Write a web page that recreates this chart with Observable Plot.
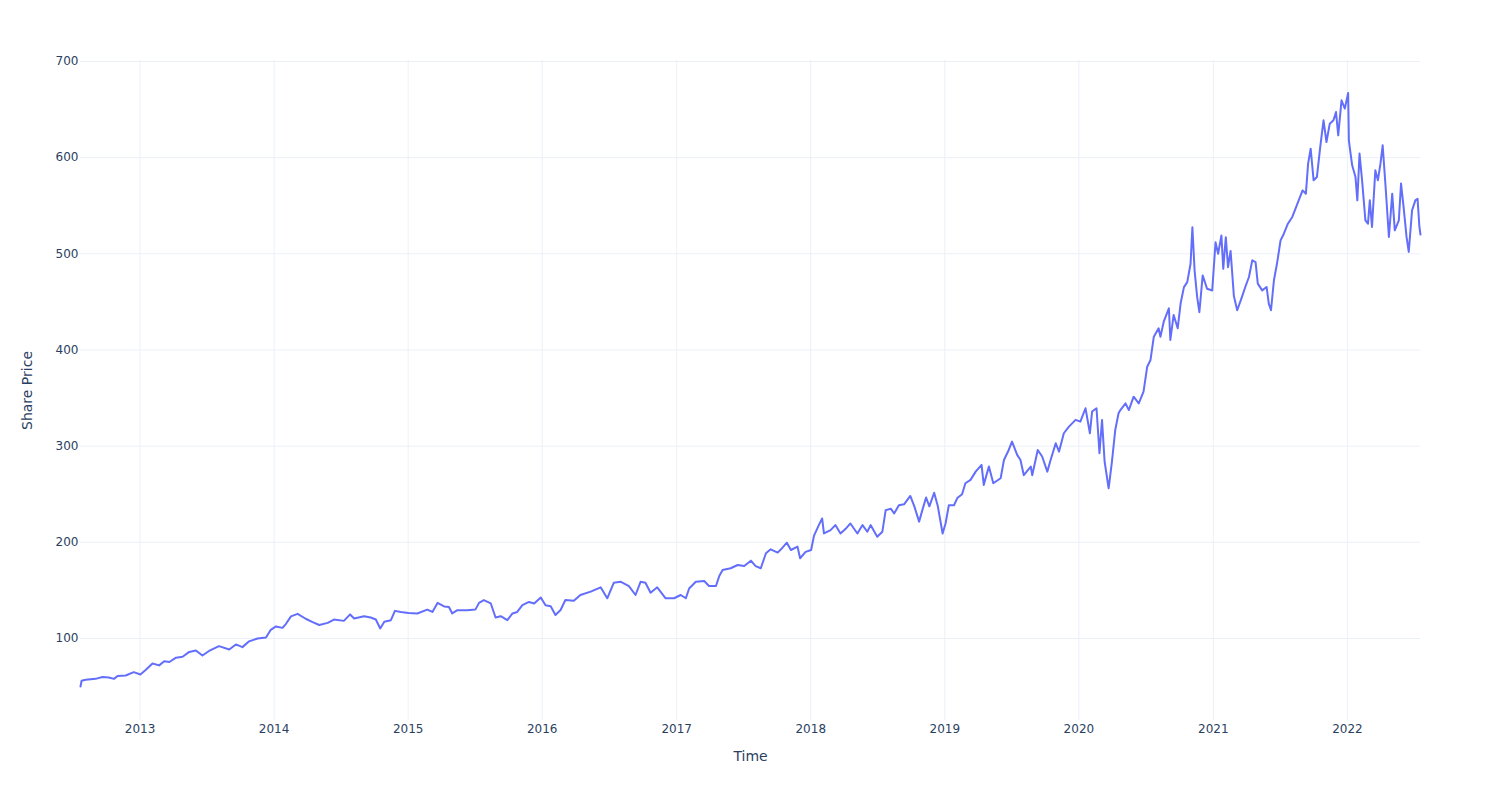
<!DOCTYPE html>
<html>
<head>
<meta charset="utf-8">
<script src="https://cdn.jsdelivr.net/npm/d3@7"></script>
<script src="https://cdn.jsdelivr.net/npm/@observablehq/plot@0.6"></script>
<style>
  html, body { margin: 0; padding: 0; background: #fff; }
  #chart { width: 1500px; height: 800px; }
</style>
</head>
<body>
<div id="chart"></div>
<script>
const dates = [
  "2012-07-23","2012-07-26","2012-08-06","2012-09-02","2012-09-21","2012-10-08","2012-10-22","2012-11-01","2012-11-23","2012-12-15",
  "2013-01-02","2013-01-17","2013-02-04","2013-02-22","2013-03-08","2013-03-22","2013-04-09","2013-04-27","2013-05-15","2013-06-02",
  "2013-06-20","2013-07-08","2013-08-04","2013-09-01","2013-09-19","2013-10-07","2013-10-25","2013-11-17","2013-12-10","2013-12-23",
  "2014-01-06","2014-01-24","2014-02-02","2014-02-16","2014-03-06","2014-03-28","2014-04-16","2014-05-04","2014-05-27","2014-06-13",
  "2014-07-10","2014-07-27","2014-08-07","2014-09-03","2014-09-21","2014-10-05","2014-10-17","2014-10-28","2014-11-15","2014-11-26",
  "2014-12-12","2015-01-02","2015-01-26","2015-02-22","2015-03-08","2015-03-22","2015-04-09","2015-04-22","2015-05-01","2015-05-15",
  "2015-06-11","2015-07-03","2015-07-13","2015-07-26","2015-08-14","2015-08-27","2015-09-10","2015-09-28","2015-10-12","2015-10-25",
  "2015-11-08","2015-11-26","2015-12-10","2015-12-28","2016-01-10","2016-01-24","2016-02-06","2016-02-20","2016-03-04","2016-03-27",
  "2016-04-14","2016-05-12","2016-06-08","2016-06-26","2016-07-14","2016-08-01","2016-08-24","2016-09-11","2016-09-25","2016-10-08",
  "2016-10-22","2016-11-09","2016-12-02","2016-12-25","2017-01-12","2017-01-26","2017-02-04","2017-02-22","2017-03-17","2017-03-30",
  "2017-04-18","2017-04-27","2017-05-06","2017-05-28","2017-06-16","2017-07-04","2017-07-22","2017-08-04","2017-08-18","2017-09-01",
  "2017-09-14","2017-10-03","2017-10-12","2017-10-28","2017-11-08","2017-11-26","2017-12-03","2017-12-18","2018-01-02","2018-01-10",
  "2018-01-23","2018-02-01","2018-02-06","2018-02-24","2018-03-09","2018-03-23","2018-04-06","2018-04-19","2018-05-08","2018-05-22",
  "2018-06-04","2018-06-13","2018-07-01","2018-07-15","2018-07-24","2018-08-07","2018-08-16","2018-08-29","2018-09-12","2018-09-29",
  "2018-10-10","2018-10-23","2018-11-02","2018-11-11","2018-11-20","2018-12-03","2018-12-13","2018-12-26","2019-01-03","2019-01-12",
  "2019-01-26","2019-02-04","2019-02-17","2019-02-26","2019-03-12","2019-03-26","2019-04-11","2019-04-17","2019-05-01","2019-05-13",
  "2019-06-02","2019-06-11","2019-06-24","2019-07-03","2019-07-17","2019-07-26","2019-08-04","2019-08-23","2019-08-27","2019-09-11",
  "2019-09-23","2019-10-07","2019-10-16","2019-10-30","2019-11-08","2019-11-21","2019-12-05","2019-12-23","2020-01-05","2020-01-19",
  "2020-01-31","2020-02-06","2020-02-18","2020-02-26","2020-03-04","2020-03-11","2020-03-22","2020-03-31","2020-04-09","2020-04-18",
  "2020-04-23","2020-05-07","2020-05-16","2020-05-29","2020-06-12","2020-06-25","2020-07-05","2020-07-14","2020-07-23","2020-08-05",
  "2020-08-10","2020-08-19","2020-09-02","2020-09-06","2020-09-15","2020-09-26","2020-10-04","2020-10-13","2020-10-22","2020-10-31",
  "2020-11-05","2020-11-11","2020-11-18","2020-11-24","2020-12-03","2020-12-15","2020-12-29","2021-01-07","2021-01-14","2021-01-23",
  "2021-01-28","2021-02-04","2021-02-10","2021-02-17","2021-02-26","2021-03-07","2021-03-20","2021-03-29","2021-04-08","2021-04-17",
  "2021-04-26","2021-05-02","2021-05-14","2021-05-26","2021-06-01","2021-06-07","2021-06-15","2021-06-24","2021-07-03","2021-07-12",
  "2021-07-23","2021-08-04","2021-08-18","2021-09-01","2021-09-10","2021-09-16","2021-09-23","2021-10-01","2021-10-10","2021-10-19",
  "2021-10-28","2021-11-05","2021-11-14","2021-11-24","2021-12-01","2021-12-07","2021-12-16","2021-12-25","2022-01-03","2022-01-05",
  "2022-01-09","2022-01-14","2022-01-23","2022-01-28","2022-02-03","2022-02-10","2022-02-19","2022-02-26","2022-03-03","2022-03-09",
  "2022-03-18","2022-03-25","2022-04-01","2022-04-07","2022-04-15","2022-04-24","2022-05-03","2022-05-10","2022-05-21","2022-05-27",
  "2022-06-03","2022-06-11","2022-06-17","2022-06-26","2022-07-05","2022-07-11","2022-07-16","2022-07-19"
];
const prices = [
  50,56,57,58,60,59.5,58,61,61.5,65,
  62.6,67.5,74,72,76.4,75.5,80,81,86,87.5,
  82.3,87,92,88.6,93.8,91,97,100,101,109,
  112.5,111,115,123,125.6,120.5,117,114,116.2,119.7,
  118.3,125,120.8,123.2,121.8,119.7,110.4,117.3,119,128.7,
  127.6,126.6,126,130,127.6,137,133.3,132.7,126,129.4,
  129.4,130,137,139.8,136.4,121.8,123.2,119,126,127.6,
  134.6,138,136.4,142.6,134.6,133.6,124.4,129.6,140,139.3,
  145.2,148.7,153.2,141.8,158,159,154.5,145.2,159,158,
  147.6,153.2,141.8,141.8,145.2,141.8,152,159,159.7,154.5,
  154.5,165,171.2,173,176.4,175.3,180.9,175.3,173,188.6,
  192.7,189.3,192.7,199.6,192,195.5,183.4,190,192,207,
  217.9,224.8,209.2,212.7,217.9,209.2,214,219.6,209.2,217.9,
  211,217.9,205.7,211,233.4,235,230,238.5,239.5,248.2,
  237.4,221.5,235,246.5,237.4,251.5,237.4,209.2,219.6,238.5,
  238.5,246,249.9,261.4,264.9,273.5,280.5,259.7,278.8,261.4,
  266.6,285.6,296,304.7,290.9,285.6,269.8,278.8,269.8,296,
  289.2,273.5,285.6,303,294.3,313.4,320.3,327.3,325.5,339.4,
  313.4,336,339.4,292.6,327.3,284,256.1,284,316.8,334.2,
  337.5,344.5,337.5,351.4,344.5,356.6,382.6,389.6,413.8,422.5,
  413.8,429.4,443.3,410.4,436.4,422.5,448.5,465.3,470.5,489.6,
  527.6,482.6,454.9,439.3,477.5,463.6,461.9,512,500,519,
  484.4,517.3,486.1,503,456,441.3,455.2,465.5,475.9,493.2,
  491.4,469,462,465.5,448.2,441.3,472.5,491.4,514,520.9,
  531.3,538.3,552.1,566,562.5,593.7,609.3,576.4,579.9,611,
  638.8,616.2,635.3,638.8,647.4,623.2,659.6,651,667.2,618,
  605.9,592,579.9,555.6,604.2,576.4,534.8,531.3,555.6,527.9,
  586.8,576.4,593.7,612.8,569.5,517.5,562.5,524.4,534.8,573,
  548.6,517.5,502,545.2,555.6,557.3,527.9,520
];
const yearTicks = ["2013","2014","2015","2016","2017","2018","2019","2020","2021","2022"];
const priceTicks = [100, 200, 300, 400, 500, 600, 700];
const xTitle = "Time";
const yTitle = "Share Price";

const parse = d3.utcParse("%Y-%m-%d");
const data = dates.map((d, i) => ({date: parse(d), price: prices[i]}));
const xTickDates = yearTicks.map(y => parse(y + "-01-01"));

const gridColor = "#EBF0F8";
const textColor = "#2a3f5f";

const chart = Plot.plot({
  width: 1500,
  height: 800,
  marginLeft: 80,
  marginRight: 80,
  marginTop: 60,
  marginBottom: 80,
  style: {
    fontFamily: "'DejaVu Sans', Verdana, sans-serif",
    fontSize: "12px",
    color: textColor,
    background: "#fff"
  },
  x: {
    type: "utc",
    domain: d3.extent(data, d => d.date),
    ticks: xTickDates,
    tickFormat: d3.utcFormat("%Y"),
    tickSize: 0,
    tickPadding: 4,
    label: null
  },
  y: {
    domain: [14.7, 701],
    ticks: priceTicks,
    tickSize: 0,
    tickPadding: 2,
    label: null
  },
  marks: [
    Plot.gridY(priceTicks, {stroke: gridColor, strokeOpacity: 1, strokeWidth: 1}),
    Plot.gridX(xTickDates, {stroke: gridColor, strokeOpacity: 1, strokeWidth: 1}),
    Plot.line(data, {x: "date", y: "price", stroke: "#636efa", strokeWidth: 2, strokeLinejoin: "round"}),
    Plot.text([yTitle], {frameAnchor: "left", textAnchor: "middle", lineAnchor: "middle", rotate: -90, dx: -53, fontSize: 14, fill: textColor}),
    Plot.text([xTitle], {frameAnchor: "bottom", textAnchor: "middle", lineAnchor: "middle", dy: 36, fontSize: 14, fill: textColor})
  ]
});
document.getElementById("chart").appendChild(chart);
</script>
</body>
</html>
